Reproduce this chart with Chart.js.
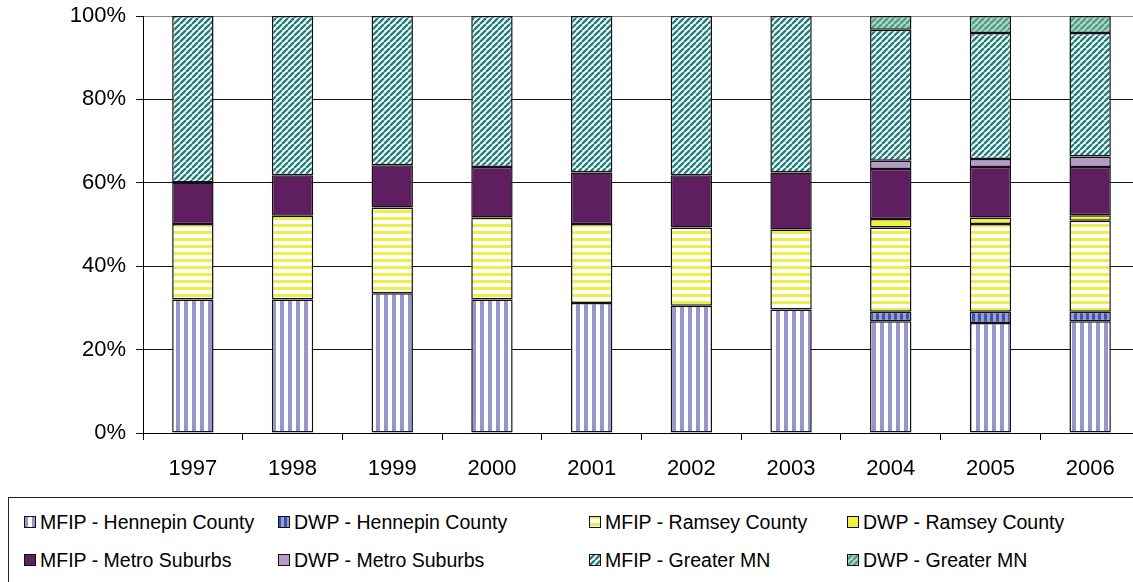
<!DOCTYPE html>
<html>
<head>
<meta charset="utf-8">
<script src="https://cdn.jsdelivr.net/npm/chart.js@4.4.1/dist/chart.umd.min.js"></script>
<style>
  html, body { margin: 0; padding: 0; background: #fff; overflow: hidden; width: 1133px; height: 582px; }
  #wrap { position: relative; width: 1133px; height: 582px; overflow: hidden; }
  #c { position: absolute; left: 0; top: 0; }
  #legend { position: absolute; left: 8px; top: 497px; width: 1200px; height: 150px; border: 1px solid #222; box-sizing: border-box; }
  .item { position: absolute; height: 24px; font-family: 'Liberation Sans', Arial, sans-serif; font-size: 19.5px; color: #000; white-space: nowrap; line-height: 24px; }
  .item canvas { position: absolute; left: 0; top: 6px; }
  .item span { position: absolute; left: 16px; top: 0; }
</style>
</head>
<body>
<div id="wrap">
  <canvas id="c" width="1145" height="495"></canvas>
  <div id="legend"></div>
</div>
<script>
// ---- data ----
const years = ['1997','1998','1999','2000','2001','2002','2003','2004','2005','2006'];
const mfipHennepin = [32.0, 32.0, 33.5, 32.0, 31.2, 30.5, 29.6, 26.8, 26.4, 26.8];
const dwpHennepin  = [null, null, null, null, null, null, null, 2.3, 2.7, 2.3];
const mfipRamsey   = [18.1, 20.1, 20.6, 19.7, 18.9, 18.8, 19.2, 20.2, 21.0, 21.8];
const dwpRamsey    = [null, null, null, null, null, null, null, 2.0, 1.6, 1.3];
const mfipMetro    = [10.0, 9.7, 10.1, 12.1, 12.4, 12.5, 13.7, 12.0, 12.1, 11.6];
const dwpMetro     = [null, null, null, null, null, null, null, 2.0, 1.9, 2.5];
const mfipGreater  = [39.9, 38.2, 35.8, 36.2, 37.5, 38.2, 37.5, 31.4, 30.2, 29.6];
const dwpGreater   = [null, null, null, null, null, null, null, 3.3, 4.1, 4.1];
const seriesNames = ['MFIP - Hennepin County','DWP - Hennepin County','MFIP - Ramsey County','DWP - Ramsey County',
                     'MFIP - Metro Suburbs','DWP - Metro Suburbs','MFIP - Greater MN','DWP - Greater MN'];
const yTicks = [0, 20, 40, 60, 80, 100];

// ---- patterns ----
function makePattern(type, fg, bg, size, w) {
  const c = document.createElement('canvas');
  c.width = size; c.height = size;
  const x = c.getContext('2d');
  x.fillStyle = bg; x.fillRect(0, 0, size, size);
  x.fillStyle = fg; x.strokeStyle = fg;
  if (type === 'v') x.fillRect(0, 0, w, size);
  else if (type === 'h') x.fillRect(0, 0, size, w);
  else if (type === 'd') {
    x.lineWidth = w; x.beginPath();
    for (let k = -1; k <= 1; k++) { x.moveTo(k * size, size); x.lineTo(k * size + size, 0); }
    x.stroke();
  } else if (type === 's') { x.fillRect(0, 0, size, size); }
  return x.createPattern(c, 'repeat');
}
const fills = [
  makePattern('v', '#9696cc', '#ffffff', 8, 4),
  makePattern('v', '#3a58a8', '#9c9cd8', 6, 3),
  makePattern('h', '#eeee44', '#ffffff', 7, 3),
  makePattern('s', '#f2f23e', '#f2f23e', 4, 4),
  '#5f1e5f',
  '#b49ac8',
  makePattern('d', '#22807f', '#ffffff', 6, 2.4),
  makePattern('d', '#4f9f8a', '#b2dcc0', 6, 2.4)
];
const dataArrays = [mfipHennepin, dwpHennepin, mfipRamsey, dwpRamsey, mfipMetro, dwpMetro, mfipGreater, dwpGreater];

const FONT = "'Liberation Sans', Arial, sans-serif";

new Chart(document.getElementById('c'), {
  type: 'bar',
  data: {
    labels: years,
    datasets: dataArrays.map((d, i) => ({
      label: seriesNames[i],
      data: d,
      backgroundColor: fills[i],
      borderColor: '#111',
      borderWidth: 1.5,
      borderSkipped: false,
      barPercentage: 0.415,
      categoryPercentage: 1.0
    }))
  },
  options: {
    responsive: false,
    animation: false,
    devicePixelRatio: 1,
    layout: { padding: { top: 16, right: 5, left: 0, bottom: 0 } },
    plugins: { legend: { display: false }, tooltip: { enabled: false } },
    scales: {
      x: {
        stacked: true,
        grid: { drawOnChartArea: false, drawTicks: true, tickLength: 7, color: '#000', offset: true },
        border: { color: '#000', width: 1 },
        ticks: { color: '#000', font: { family: FONT, size: 22 }, padding: 16, maxRotation: 0 },
        afterFit: s => { s.height = 62; s.paddingLeft = 0; s.paddingRight = 0; }
      },
      y: {
        stacked: true,
        min: 0, max: 100,
        afterBuildTicks: s => { s.ticks = yTicks.map(v => ({ value: v })); },
        grid: {
          color: ctx => (ctx.tick && ctx.tick.value === 100) ? '#888' : '#111',
          lineWidth: 1, tickLength: 7, tickColor: '#111', drawTicks: true
        },
        border: { color: '#000', width: 1 },
        ticks: { color: '#000', font: { family: FONT, size: 22 }, padding: 10, callback: v => v + '%' },
        afterFit: s => { s.width = 143; s.paddingTop = 0; s.paddingBottom = 0; }
      }
    }
  }
});

// ---- legend (HTML) ----
const legend = document.getElementById('legend');
const colX = [24, 278, 589, 847];
const rowY = [522, 560];
seriesNames.forEach((name, i) => {
  const col = i % 4, row = Math.floor(i / 4);
  const it = document.createElement('div');
  it.className = 'item';
  it.style.left = (colX[col] - 9) + 'px';
  it.style.top = (rowY[row] - 12 - 498) + 'px';
  const sw = document.createElement('canvas');
  sw.width = 12; sw.height = 12;
  const g = sw.getContext('2d');
  g.fillStyle = fills[i]; g.fillRect(0, 0, 12, 12);
  g.strokeStyle = '#111'; g.lineWidth = 1; g.strokeRect(0.5, 0.5, 11, 11);
  const sp = document.createElement('span');
  sp.textContent = name;
  it.appendChild(sw); it.appendChild(sp);
  legend.appendChild(it);
});
</script>
</body>
</html>
